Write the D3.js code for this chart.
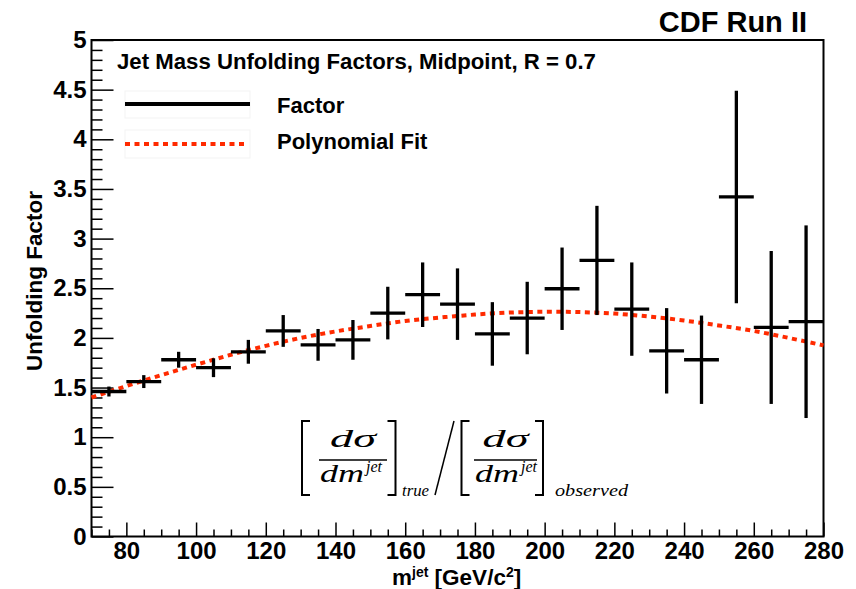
<!DOCTYPE html>
<html>
<head>
<meta charset="utf-8">
<script src="https://cdn.jsdelivr.net/npm/d3@7"></script>
<style>
  body { margin: 0; background: #fff; }
  svg text { font-family: "Liberation Sans", Arial, Helvetica, sans-serif; font-weight: bold; fill: #000; }
  .serif { font-family: "Liberation Serif", "Times New Roman", serif; font-weight: normal; font-style: italic; }
</style>
</head>
<body>
<svg id="chart" width="856" height="589"></svg>
<script>
// bin centres of the jet mass histogram (GeV/c^2)
const massBins = [75, 85, 95, 105, 115, 125, 135, 145, 155, 165, 175, 185, 195, 205, 215, 225, 235, 245, 255, 265, 275];
const factorValues = [1.46, 1.56, 1.78, 1.70, 1.86, 2.07, 1.93, 1.98, 2.25, 2.435, 2.34, 2.04, 2.20, 2.495, 2.78, 2.29, 1.87, 1.78, 3.42, 2.105, 2.163];
const factorErrors = [0.05, 0.065, 0.08, 0.095, 0.12, 0.16, 0.16, 0.20, 0.265, 0.325, 0.36, 0.32, 0.365, 0.415, 0.55, 0.47, 0.43, 0.445, 1.07, 0.77, 0.97];
const binWidth = 10;

// polynomial fit
const fitMass = [70, 80, 90, 100, 110, 120, 130, 140, 150, 160, 170, 180, 190, 200, 210, 220, 230, 240, 250, 260, 270, 280];
const fitValues = [1.40, 1.515, 1.625, 1.73, 1.83, 1.92, 2.00, 2.065, 2.12, 2.17, 2.205, 2.235, 2.255, 2.263, 2.26, 2.245, 2.215, 2.175, 2.125, 2.07, 2.00, 1.925];

const xMajorTicks = [80, 100, 120, 140, 160, 180, 200, 220, 240, 260, 280];
const yMajorTicks = [0, 0.5, 1, 1.5, 2, 2.5, 3, 3.5, 4, 4.5, 5];

const svg = d3.select('#chart');
const frame = { left: 91.5, right: 823.5, top: 40, bottom: 536.5 };

const x = d3.scaleLinear().domain([70, 280]).range([frame.left, frame.right]);
const y = d3.scaleLinear().domain([0, 5]).range([frame.bottom, frame.top]);

// minor ticks
const xMinor = d3.range(70, 281, 5).filter(v => !xMajorTicks.includes(v));
const yMinor = d3.range(0, 5.001, 0.1).map(v => +v.toFixed(1)).filter(v => !yMajorTicks.includes(v));

svg.append('g')
    .attr('transform', `translate(0,${frame.bottom})`)
    .call(d3.axisBottom(x).tickValues(xMinor).tickSize(-7).tickFormat(''))
    .call(g => g.select('.domain').remove())
    .call(g => g.selectAll('line').attr('stroke', '#000').attr('stroke-width', 1.5));

svg.append('g')
    .attr('transform', `translate(0,${frame.bottom})`)
    .call(d3.axisBottom(x).tickValues(xMajorTicks).tickSize(-14).tickPadding(5).tickFormat(d => d))
    .call(g => g.select('.domain').remove())
    .call(g => g.selectAll('line').attr('stroke', '#000').attr('stroke-width', 1.5))
    .call(g => g.selectAll('text').attr('font-size', 24).attr('font-family', null));

svg.append('g')
    .attr('transform', `translate(${frame.left},0)`)
    .call(d3.axisLeft(y).tickValues(yMinor).tickSize(-11).tickFormat(''))
    .call(g => g.select('.domain').remove())
    .call(g => g.selectAll('line').attr('stroke', '#000').attr('stroke-width', 1.5));

svg.append('g')
    .attr('transform', `translate(${frame.left},0)`)
    .call(d3.axisLeft(y).tickValues(yMajorTicks).tickSize(-22).tickPadding(5).tickFormat(d => String(d)))
    .call(g => g.select('.domain').remove())
    .call(g => g.selectAll('line').attr('stroke', '#000').attr('stroke-width', 1.5))
    .call(g => g.selectAll('text').attr('font-size', 24).attr('font-family', null));

// frame
svg.append('rect')
    .attr('x', frame.left).attr('y', frame.top)
    .attr('width', frame.right - frame.left).attr('height', frame.bottom - frame.top)
    .attr('fill', 'none').attr('stroke', '#000').attr('stroke-width', 2);

// fit curve
const fitLine = d3.line()
    .x((d, i) => x(fitMass[i]))
    .y(d => y(d))
    .curve(d3.curveNatural);

svg.append('path')
    .datum(fitValues)
    .attr('d', fitLine)
    .attr('fill', 'none')
    .attr('stroke', '#ff2a00')
    .attr('stroke-width', 4)
    .attr('stroke-dasharray', '5 4.5');

// factor points with error bars
const pts = svg.append('g').attr('stroke', '#000').attr('stroke-width', 3.3);
massBins.forEach((m, i) => {
    const v = factorValues[i], e = factorErrors[i];
    pts.append('line')
        .attr('x1', x(m - binWidth / 2)).attr('x2', x(m + binWidth / 2))
        .attr('y1', y(v)).attr('y2', y(v));
    pts.append('line')
        .attr('x1', x(m)).attr('x2', x(m))
        .attr('y1', y(v + e)).attr('y2', y(v - e));
});

// titles
svg.append('text').attr('x', 807).attr('y', 32).attr('text-anchor', 'end')
    .attr('font-size', 29).text('CDF Run II');

svg.append('text').attr('x', 117).attr('y', 69).attr('font-size', 22.2)
    .text('Jet Mass Unfolding Factors, Midpoint, R = 0.7');

// legend
svg.append('rect').attr('x', 125).attr('y', 91).attr('width', 125).attr('height', 27)
    .attr('fill', 'none').attr('stroke', '#f3f3f3');
svg.append('rect').attr('x', 125).attr('y', 130).attr('width', 125).attr('height', 28)
    .attr('fill', 'none').attr('stroke', '#f3f3f3');
svg.append('line').attr('x1', 125).attr('x2', 250).attr('y1', 104).attr('y2', 104)
    .attr('stroke', '#000').attr('stroke-width', 4);
svg.append('line').attr('x1', 125).attr('x2', 248).attr('y1', 144).attr('y2', 144)
    .attr('stroke', '#ff2a00').attr('stroke-width', 4).attr('stroke-dasharray', '5 4.5');
svg.append('text').attr('x', 277).attr('y', 113).attr('font-size', 22).text('Factor');
svg.append('text').attr('x', 277).attr('y', 149).attr('font-size', 22).text('Polynomial Fit');

// axis titles
svg.append('text')
    .attr('transform', 'translate(42,281) rotate(-90)')
    .attr('text-anchor', 'middle').attr('font-size', 22.5)
    .text('Unfolding Factor');

const xt = svg.append('text').attr('x', 392).attr('y', 585).attr('font-size', 22.5);
xt.append('tspan').text('m');
xt.append('tspan').attr('font-size', 14).attr('dy', -8).text('jet');
xt.append('tspan').attr('dy', 8).text(' [GeV/c');
xt.append('tspan').attr('font-size', 14).attr('dy', -8).text('2');
xt.append('tspan').attr('dy', 8).text(']');

// formula
const f = svg.append('g');
function bracket(xv, dir) {
    const top = 421, bot = 495, w = 8 * dir;
    f.append('path')
        .attr('d', `M${xv + w},${top} H${xv} V${bot} H${xv + w}`)
        .attr('fill', 'none').attr('stroke', '#000').attr('stroke-width', 2);
}
function fraction(cx, x0, x1) {
    f.append('text').attr('class', 'serif').attr('x', cx - 23).attr('y', 447)
        .attr('font-size', 25).attr('textLength', 46).attr('lengthAdjust', 'spacingAndGlyphs').text('dσ');
    f.append('line').attr('x1', x0).attr('x2', x1).attr('y1', 460).attr('y2', 460)
        .attr('stroke', '#000').attr('stroke-width', 1.3);
    f.append('text').attr('class', 'serif').attr('x', x0 + 1).attr('y', 482)
        .attr('font-size', 25).attr('textLength', 44).attr('lengthAdjust', 'spacingAndGlyphs').text('dm');
    f.append('text').attr('class', 'serif').attr('x', x0 + 47).attr('y', 472)
        .attr('font-size', 16).text('jet');
}
bracket(302, 1);
fraction(353, 319, 387);
bracket(395.5, -1);
f.append('text').attr('class', 'serif').attr('x', 402).attr('y', 496).attr('font-size', 17)
    .attr('textLength', 27).attr('lengthAdjust', 'spacingAndGlyphs').text('true');
f.append('line').attr('x1', 435).attr('y1', 495).attr('x2', 454).attr('y2', 421)
    .attr('stroke', '#000').attr('stroke-width', 1.5);
bracket(461.5, 1);
fraction(505.5, 474, 537);
bracket(543, -1);
f.append('text').attr('class', 'serif').attr('x', 555).attr('y', 496).attr('font-size', 17)
    .attr('textLength', 73).attr('lengthAdjust', 'spacingAndGlyphs').text('observed');
</script>
</body>
</html>
